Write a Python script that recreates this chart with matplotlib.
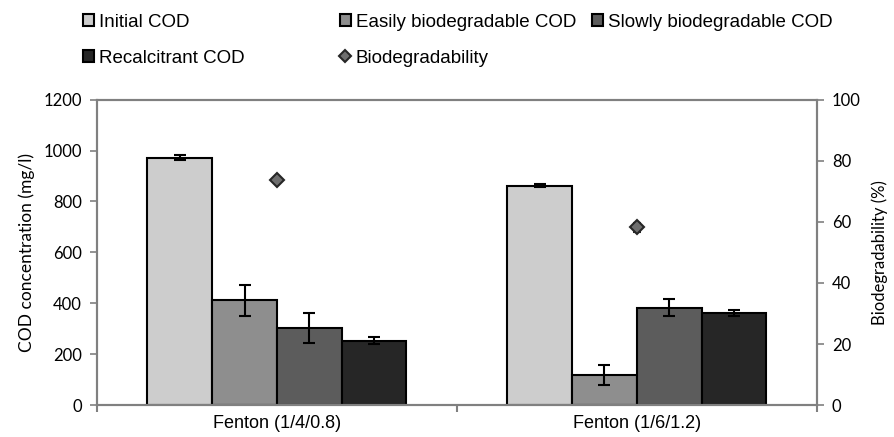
import numpy as np
import matplotlib
matplotlib.use("Agg")
import matplotlib.pyplot as plt
from matplotlib.patches import Patch
from matplotlib.lines import Line2D

# values
treatments = ["Fenton (1/4/0.8)", "Fenton (1/6/1.2)"]
series = ["Initial COD", "Easily biodegradable COD", "Slowly biodegradable COD", "Recalcitrant COD"]
initial_cod = [972, 862]
initial_err = [10, 5]
easily_cod = [411, 117]
easily_err = [60, 40]
slowly_cod = [302, 383]
slowly_err = [60, 33]
recalc_cod = [253, 362]
recalc_err = [13, 13]
biodeg = [73.7, 58.2]
biodeg_err = [1.0, 1.5]

colors = ["#cdcdcd", "#8e8e8e", "#5c5c5c", "#262626"]
spine_gray = "#808080"

plt.rcParams['font.family'] = ['Liberation Sans', 'DejaVu Sans']

fig = plt.figure(figsize=(8.94, 4.37), dpi=100)
ax = fig.add_axes([0.1085, 0.073, 0.805, 0.699])
ax2 = ax.twinx()

x = np.arange(len(treatments))
w = 0.18
vals = [initial_cod, easily_cod, slowly_cod, recalc_cod]
errs = [initial_err, easily_err, slowly_err, recalc_err]
offsets = [-1.5, -0.5, 0.5, 1.5]
for v, e, c, off, name in zip(vals, errs, colors, offsets, series):
    ax.bar(x + off * w, v, w, color=c, edgecolor="black", linewidth=1.5, label=name, zorder=2)
    ax.errorbar(x + off * w, v, yerr=e, fmt="none", ecolor="black", elinewidth=1.5,
                capsize=4, capthick=1.5, zorder=3)

ax2.errorbar(x, biodeg, yerr=biodeg_err, fmt="D", ms=7, mfc="#6e6e6e", mec="#262626",
             mew=1.5, ecolor="#262626", elinewidth=1.2, capsize=3, zorder=4)

ax.set_xlim(-0.5, 1.5)
ax.set_ylim(0, 1200)
ax.set_yticks(np.arange(0, 1201, 200))
ax2.set_ylim(0, 100)
ax2.set_yticks(np.arange(0, 101, 20))

ax.set_xticks([-0.5, 0.5, 1.5])
ax.set_xticklabels([])
ax.set_xticks(x, minor=True)
ax.set_xticklabels(treatments, minor=True, fontsize=13)
ax.tick_params(axis="x", which="minor", length=0, pad=7)
ax.tick_params(axis="x", which="major", length=5, width=1.5, color=spine_gray)

tick_font = ['Lato', 'DejaVu Sans']
ax.tick_params(axis="y", length=5, width=1.2, color=spine_gray, pad=6)
ax2.tick_params(axis="y", length=5, width=1.2, color=spine_gray, pad=6)
for lab in ax.get_yticklabels() + ax2.get_yticklabels():
    lab.set_family(tick_font)
    lab.set_fontsize(12)

ax.set_ylabel("COD concentration (mg/l)", family=tick_font, fontsize=12.5, labelpad=6)
ax2.set_ylabel("Biodegradability (%)", family=tick_font, fontsize=12, labelpad=8)

for a in (ax, ax2):
    for s in a.spines.values():
        s.set_color(spine_gray)
        s.set_linewidth(1.5)

# legend, three columns like the original
h = [Patch(facecolor=c, edgecolor="black", linewidth=1.5) for c in colors]
hb = Line2D([], [], marker="D", ls="none", ms=6, mfc="#6e6e6e", mec="#262626", mew=1.5)
kw = dict(frameon=False, fontsize=13.5, handlelength=0.6, handleheight=0.6,
          handletextpad=0.25, labelspacing=1.0, borderpad=0, borderaxespad=0, loc="upper left")
fig.legend([h[0], h[3]], [series[0], series[3]], bbox_to_anchor=(0.093, 0.968), **kw)
fig.legend([h[1], hb], [series[1], "Biodegradability"], bbox_to_anchor=(0.38, 0.968), **kw)
fig.legend([h[2]], [series[2]], bbox_to_anchor=(0.662, 0.968), **kw)

fig.savefig("out.png", dpi=100)
